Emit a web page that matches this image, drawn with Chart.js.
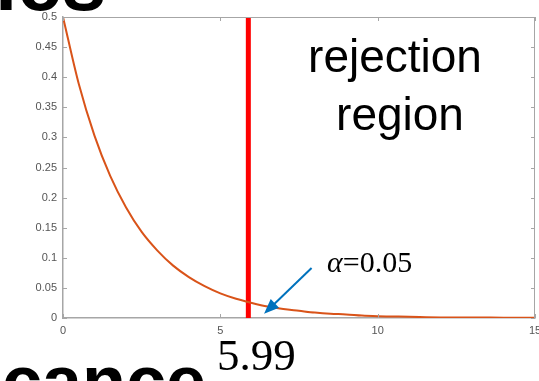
<!DOCTYPE html>
<html>
<head>
<meta charset="utf-8">
<script src="https://cdn.jsdelivr.net/npm/chart.js@4.4.0/dist/chart.umd.min.js"></script>
<style>
  html, body { margin: 0; padding: 0; background: #fff; }
  #wrap { width: 539px; height: 381px; position: relative; }
</style>
</head>
<body>
<div id="wrap"><canvas id="chart" width="539" height="381"></canvas></div>
<script>
// chi-square density
const xValues = [0, 0.5, 1, 1.5, 2, 2.5, 3, 3.5, 4, 4.5, 5, 5.5, 6, 6.5, 7, 7.5, 8, 8.5, 9, 9.5, 10, 11, 12, 13, 14, 15];
const yValues = [0.5, 0.389, 0.303, 0.236, 0.184, 0.143, 0.112, 0.087, 0.068, 0.053, 0.041, 0.032, 0.025, 0.019, 0.015, 0.012, 0.009, 0.007, 0.006, 0.004, 0.003, 0.002, 0.001, 0.001, 0.0005, 0.0003];
const criticalX = [5.89, 5.89];
const criticalY = [0, 0.5];
const xTicks = [0, 5, 10, 15];
const yTicks = [0, 0.05, 0.1, 0.15, 0.2, 0.25, 0.3, 0.35, 0.4, 0.45, 0.5];
const arrowFrom = { x: 7.9, y: 0.083 };
const arrowTo = { x: 6.39, y: 0.007 };

const axisColor = '#a6a6a6';

const boxPlugin = {
    id: 'box',
    afterDraw(chart) {
        const c = chart.ctx;
        const a = chart.chartArea;
        const xs = chart.scales.x;
        const ys = chart.scales.y;
        c.save();
        c.strokeStyle = axisColor;
        c.lineWidth = 1;
        c.beginPath();
        c.moveTo(a.left, a.top + 0.5);
        c.lineTo(a.right - 0.5, a.top + 0.5);
        c.lineTo(a.right - 0.5, a.bottom);
        c.stroke();
        // inward tick marks on all four sides
        c.beginPath();
        xTicks.forEach(v => {
            const px = Math.round(xs.getPixelForValue(v)) + 0.5;
            c.moveTo(px, a.bottom); c.lineTo(px, a.bottom - 4);
            c.moveTo(px, a.top); c.lineTo(px, a.top + 4);
        });
        yTicks.forEach(v => {
            const py = Math.round(ys.getPixelForValue(v)) + 0.5;
            c.moveTo(a.left, py); c.lineTo(a.left + 4, py);
            c.moveTo(a.right, py); c.lineTo(a.right - 4, py);
        });
        c.stroke();

        // arrow to the tail
        const x1 = xs.getPixelForValue(arrowFrom.x), y1 = ys.getPixelForValue(arrowFrom.y);
        const x2 = xs.getPixelForValue(arrowTo.x), y2 = ys.getPixelForValue(arrowTo.y);
        const ang = Math.atan2(y2 - y1, x2 - x1);
        c.strokeStyle = '#0072BD';
        c.fillStyle = '#0072BD';
        c.lineWidth = 2;
        c.beginPath();
        c.moveTo(x1, y1);
        c.lineTo(x2 - 12 * Math.cos(ang), y2 - 12 * Math.sin(ang));
        c.stroke();
        c.beginPath();
        c.moveTo(x2, y2);
        c.lineTo(x2 - 15 * Math.cos(ang) + 6 * Math.sin(ang), y2 - 15 * Math.sin(ang) - 6 * Math.cos(ang));
        c.lineTo(x2 - 15 * Math.cos(ang) - 6 * Math.sin(ang), y2 - 15 * Math.sin(ang) + 6 * Math.cos(ang));
        c.closePath();
        c.fill();

        // annotations
        c.fillStyle = '#000';
        c.textBaseline = 'alphabetic';
        c.textAlign = 'center';
        c.font = '46px "Liberation Sans", Arial, sans-serif';
        c.fillText('rejection', 395, 72);
        c.fillText('region', 400, 130);

        c.textAlign = 'left';
        c.font = 'italic 30px "Liberation Serif", "Times New Roman", serif';
        c.fillText('\u03b1', 327, 272);
        const aw = c.measureText('\u03b1').width;
        c.font = '30px "Liberation Serif", "Times New Roman", serif';
        c.fillText('=0.05', 327 + aw, 272);

        c.font = '45px "Liberation Serif", "Times New Roman", serif';
        c.fillText('5.99', 217, 370);

        // cut-off slide text
        c.font = 'bold 80px "Liberation Sans", Arial, sans-serif';
        c.fillText('ies', -5, 10);
        c.font = 'bold 72px "Liberation Sans", Arial, sans-serif';
        c.fillText('cance', 2, 406);
        c.restore();
    }
};

const ctx = document.getElementById('chart').getContext('2d');
new Chart(ctx, {
    type: 'scatter',
    data: {
        datasets: [{
            data: xValues.map((x, i) => ({ x: x, y: yValues[i] })),
            showLine: true,
            borderColor: '#D95319',
            borderWidth: 2,
            pointRadius: 0,
            cubicInterpolationMode: 'monotone'
        }, {
            data: criticalX.map((x, i) => ({ x: x, y: criticalY[i] })),
            showLine: true,
            borderColor: '#ff0000',
            borderWidth: 5,
            pointRadius: 0
        }]
    },
    options: {
        responsive: false,
        animation: false,
        layout: { padding: { top: 17, right: 4, left: 0, bottom: 0 } },
        plugins: { legend: { display: false }, tooltip: { enabled: false } },
        scales: {
            x: {
                type: 'linear',
                min: 0,
                max: 15,
                afterBuildTicks: s => { s.ticks = xTicks.map(v => ({ value: v })); },
                afterFit: s => { s.height = 63; s.paddingLeft = 0; s.paddingRight = 0; },
                grid: { display: false, drawTicks: false },
                border: { display: true, color: axisColor, width: 1.5 },
                ticks: {
                    padding: 6,
                    color: '#555',
                    maxRotation: 0,
                    font: { family: '"Liberation Sans", Arial, sans-serif', size: 11 }
                }
            },
            y: {
                min: 0,
                max: 0.5,
                afterBuildTicks: s => { s.ticks = yTicks.map(v => ({ value: v })); },
                afterFit: s => { s.width = 63; s.paddingTop = 0; s.paddingBottom = 0; },
                grid: { display: false, drawTicks: false },
                border: { display: true, color: axisColor, width: 1.5 },
                ticks: {
                    padding: 6,
                    color: '#555',
                    font: { family: '"Liberation Sans", Arial, sans-serif', size: 11 },
                    callback: v => String(Math.round(v * 100) / 100)
                }
            }
        }
    },
    plugins: [boxPlugin]
});
</script>
</body>
</html>
